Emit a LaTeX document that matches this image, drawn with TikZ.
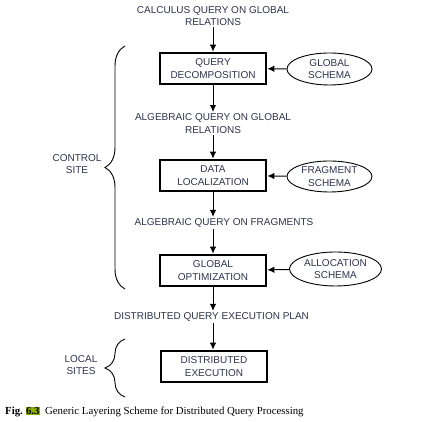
\documentclass[tikz,border=0pt]{standalone}
\usepackage{fontspec}
\setmainfont{Liberation Sans}
\newfontfamily\capfont{Liberation Serif}
\usetikzlibrary{positioning,shapes.geometric,arrows.meta,decorations.pathreplacing}
\definecolor{labelgray}{RGB}{45,52,75}
\definecolor{figgreen}{RGB}{140,176,0}

\begin{document}
\begin{tikzpicture}[x=1pt,y=1pt,
  layer/.style={draw,line width=2.7pt,minimum width=106pt,minimum height=31pt,align=center,text=labelgray,font=\fontsize{10}{12.5}\selectfont},
  schema/.style={draw,ellipse,line width=0.9pt,inner sep=0pt,align=center,text=labelgray,font=\fontsize{10}{12.5}\selectfont},
  flow/.style={align=center,text=labelgray,font=\fontsize{10}{12.5}\selectfont,inner sep=1.5pt},
  arr/.style={-{Latex[length=7pt,width=6.5pt]},line width=1pt},
  curly/.style={decorate,decoration={brace,amplitude=20pt},line width=0.9pt}]
\useasboundingbox (0,0) rectangle (436,422);
\node[flow] (calc) at (213,406) {CALCULUS QUERY ON GLOBAL\\RELATIONS};
\node[layer] (decomp) at (213,353.5) {QUERY\\DECOMPOSITION};
\node[schema,minimum width=85pt,minimum height=32pt] (gschema) at (329.5,353) {GLOBAL\\SCHEMA};
\node[flow] (alg) at (213,298.5) {ALGEBRAIC QUERY ON GLOBAL\\RELATIONS};
\node[layer] (local) at (213,246.5) {DATA\\LOCALIZATION};
\node[schema,minimum width=85pt,minimum height=31pt] (fschema) at (329.5,245.5) {FRAGMENT\\SCHEMA};
\node[flow] (frag) at (224,199) {ALGEBRAIC QUERY ON FRAGMENTS};
\node[layer] (optim) at (213,151.5) {GLOBAL\\OPTIMIZATION};
\node[schema,minimum width=92pt,minimum height=34pt] (aschema) at (335.5,153) {ALLOCATION\\SCHEMA};
\node[flow] (plan) at (211.5,105) {DISTRIBUTED QUERY EXECUTION PLAN};
\node[layer] (exec) at (214,55.5) {DISTRIBUTED\\EXECUTION};

\draw[arr] (calc.south) -- (decomp.north);
\draw[arr] (decomp.south) -- (alg.north);
\draw[arr] (alg.south) -- (local.north);
\draw[arr] (local.south) -- (local.south |- frag.north);
\draw[arr] (frag.south -| optim.north) -- (optim.north);
\draw[arr] (optim.south) -- (optim.south |- plan.north);
\draw[arr] (plan.south -| optim.north) -- (exec.north -| optim.north);
\draw[arr] (gschema) -- (decomp);
\draw[arr] (fschema) -- (local);
\draw[arr] (aschema) -- (optim);

\coordinate (ctop) at (125,376);
\coordinate (cbot) at (125,133);
\coordinate (ltop) at (125,83);
\coordinate (lbot) at (125,25);
\draw[curly] (cbot) -- (ctop);
\draw[curly] (lbot) -- (ltop);
\node[flow] (control) at (77,258) {CONTROL\\SITE};
\node[flow] (sites) at (81,57) {LOCAL\\SITES};

\node[anchor=west,inner sep=0pt,font=\capfont\fontsize{10.8}{13}\selectfont] (caption) at (5,10)
  {\textbf{Fig.}\ {\setlength{\fboxsep}{0.5pt}\colorbox{figgreen}{\textbf{6.3}}}\hspace{5pt}Generic Layering Scheme for Distributed Query Processing};
\end{tikzpicture}
\end{document}
